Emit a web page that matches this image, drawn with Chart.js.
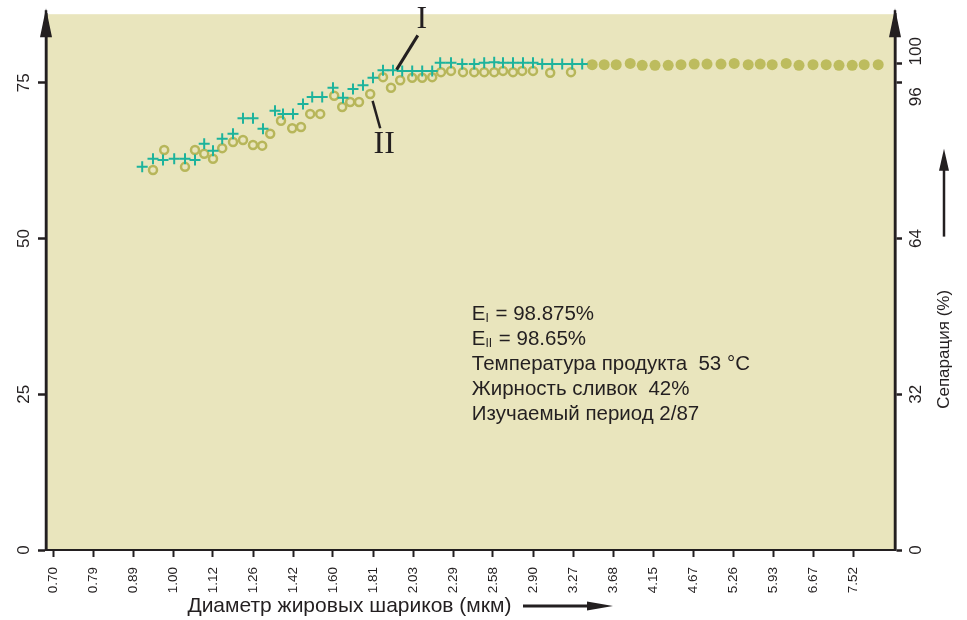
<!DOCTYPE html>
<html><head><meta charset="utf-8">
<script src="https://cdn.jsdelivr.net/npm/chart.js@4.4.1/dist/chart.umd.min.js"></script>
<style>html,body{margin:0;padding:0;background:#fff}#wrap{width:967px;height:620px;position:relative}</style>
</head><body><div id="wrap"><canvas id="c"></canvas></div>
<script>
// ---- data (x = position on the size-class axis, tick i = xTickLabels[i]) ----
const xTickLabels = ['0.70','0.79','0.89','1.00','1.12','1.26','1.42','1.60','1.81','2.03','2.29','2.58','2.90','3.27','3.68','4.15','4.67','5.26','5.93','6.67','7.52'];
const leftTicks = [0, 25, 50, 75];
const rightTicks = [0, 32, 64, 96, 100];

const seriesI_x = [2.23,2.50,2.75,3.03,3.30,3.55,3.78,4.00,4.23,4.50,4.75,5.00,5.25,5.55,5.75,6.00,6.25,6.48,6.73,7.00,7.25,7.50,7.75,8.00,8.25,8.50,8.73,8.98,9.23,9.48,9.68,9.95,10.23,10.53,10.78,11.03,11.25,11.50,11.75,12.00,12.23,12.48,12.73,12.98,13.23];
const seriesI_y = [61.5,62.8,62.6,62.8,62.8,62.6,65.2,64.1,66.0,66.8,69.3,69.3,67.6,70.5,70.0,70.0,71.6,72.7,72.7,74.2,72.6,74.0,74.6,75.8,77.0,77.0,76.9,76.9,76.9,76.9,78.2,78.2,78.0,78.0,78.2,78.3,78.2,78.2,78.2,78.2,78.0,78.0,78.0,78.0,78.0];

const seriesII_x = [2.50,2.78,3.30,3.55,3.78,4.00,4.23,4.50,4.75,5.00,5.23,5.43,5.70,5.98,6.20,6.43,6.68,7.03,7.23,7.43,7.65,7.93,8.25,8.45,8.68,8.98,9.23,9.48,9.70,9.95,10.25,10.53,10.78,11.03,11.25,11.50,11.73,12.00,12.43,12.95];
const seriesII_y = [61.0,64.2,61.5,64.2,63.6,62.8,64.5,65.5,65.8,65.0,64.9,66.8,68.9,67.7,67.9,70.0,70.0,72.9,71.1,71.9,71.9,73.2,75.9,74.2,75.4,75.8,75.8,75.9,76.7,76.9,76.7,76.7,76.7,76.7,76.9,76.7,76.9,76.9,76.6,76.7];

const common_x = [13.48,13.78,14.08,14.43,14.73,15.05,15.38,15.70,16.03,16.35,16.70,17.03,17.38,17.68,17.98,18.33,18.65,19.00,19.33,19.65,19.98,20.28,20.63];
const common_y = [77.9,77.9,77.9,78.1,77.8,77.8,77.8,77.9,78.0,78.0,78.0,78.1,77.9,78.0,77.9,78.1,77.8,77.9,77.9,77.8,77.8,77.9,77.9];

const noteLines = [['E','I',' = 98.875%'],['E','II',' = 98.65%'],['Температура продукта  53 °C'],['Жирность сливок  42%'],['Изучаемый период 2/87']];
const xTitle = 'Диаметр жировых шариков (мкм)';
const yRightTitle = 'Сепарация (%)';
const curveLabels = ['I','II'];

// ---- styling ----
const INK = '#231f20';
const SANS = '"Liberation Sans", Arial, Helvetica, sans-serif';
const SERIF = '"Liberation Serif", "Times New Roman", serif';
const BEIGE = '#e9e5bd';
const TEAL = '#1db39c';
const OLIVE = '#b7b65a';
const OLIVE_FILL = '#bdbc5e';

const pts = (xs, ys) => xs.map((x, i) => ({x, y: ys[i]}));

function triUp(ctx, x, yTip, len, hw){ctx.beginPath();ctx.moveTo(x,yTip);ctx.lineTo(x-hw,yTip+len);ctx.lineTo(x+hw,yTip+len);ctx.closePath();ctx.fill();}
function triRight(ctx, xTip, y, len, hw){ctx.beginPath();ctx.moveTo(xTip,y);ctx.lineTo(xTip-len,y-hw);ctx.lineTo(xTip-len,y+hw);ctx.closePath();ctx.fill();}

const decor = {
  id: 'decor',
  beforeDraw(chart){
    const {ctx, chartArea: a} = chart;
    ctx.save();
    ctx.fillStyle = '#fff'; ctx.fillRect(0,0,chart.width,chart.height);
    ctx.fillStyle = BEIGE; ctx.fillRect(a.left, a.top, a.right-a.left, a.bottom-a.top);
    ctx.restore();
  },
  afterDraw(chart){
    const {ctx, chartArea: a} = chart;
    const xs = chart.scales.x, ys = chart.scales.y, y2 = chart.scales.y2;
    ctx.save();
    ctx.fillStyle = INK; ctx.strokeStyle = INK;
    // axis arrows
    [a.left, a.right].forEach(x => {
      ctx.lineWidth = 2.5; ctx.beginPath(); ctx.moveTo(x, a.bottom); ctx.lineTo(x, a.top-4); ctx.stroke();
      triUp(ctx, x, a.top-6, 29, 6);
    });
    // right-axis labels
    ctx.font = '17px ' + SANS; ctx.textAlign = 'center'; ctx.textBaseline = 'middle';
    const nudge = {100: -12, 96: 14};
    rightTicks.forEach(v => {
      const y = y2.getPixelForValue(v) + (nudge[v] || 0);
      ctx.save(); ctx.translate(a.right + 21, y); ctx.rotate(-Math.PI/2); ctx.fillText(String(v), 0, 0); ctx.restore();
    });
    // right title + arrow
    const tx = a.right + 49;
    ctx.save(); ctx.translate(tx, ys.getPixelForValue(32.2)); ctx.rotate(-Math.PI/2);
    ctx.font = '17px ' + SANS; ctx.fillText(yRightTitle, 0, 0); ctx.restore();
    ctx.lineWidth = 2.5; ctx.beginPath(); ctx.moveTo(tx, ys.getPixelForValue(50.3)); ctx.lineTo(tx, ys.getPixelForValue(62)); ctx.stroke();
    triUp(ctx, tx, ys.getPixelForValue(64.4), 22, 5);
    // x title + arrow
    ctx.font = '21px ' + SANS; ctx.textAlign = 'center'; ctx.textBaseline = 'middle';
    const ty = chart.height - 14;
    ctx.fillText(xTitle, xs.getPixelForValue(7.41), ty);
    ctx.lineWidth = 3; ctx.beginPath(); ctx.moveTo(xs.getPixelForValue(11.75), ty); ctx.lineTo(xs.getPixelForValue(13.6), ty); ctx.stroke();
    triRight(ctx, xs.getPixelForValue(14.0), ty, 26, 4.5);
    // curve labels
    ctx.font = '32px ' + SERIF; ctx.textAlign = 'center'; ctx.textBaseline = 'middle';
    ctx.fillText(curveLabels[0], xs.getPixelForValue(9.22), ys.getPixelForValue(85.1));
    ctx.fillText(curveLabels[1], xs.getPixelForValue(8.28), ys.getPixelForValue(65.0));
    ctx.lineWidth = 3; ctx.beginPath();
    ctx.moveTo(xs.getPixelForValue(9.12), ys.getPixelForValue(82.6)); ctx.lineTo(xs.getPixelForValue(8.59), ys.getPixelForValue(77.1)); ctx.stroke();
    ctx.lineWidth = 2.5; ctx.beginPath();
    ctx.moveTo(xs.getPixelForValue(7.99), ys.getPixelForValue(72.1)); ctx.lineTo(xs.getPixelForValue(8.18), ys.getPixelForValue(67.7)); ctx.stroke();
    // notes
    const nx = xs.getPixelForValue(10.47);
    let ny = ys.getPixelForValue(37.9);
    ctx.textAlign = 'left'; ctx.textBaseline = 'middle';
    noteLines.forEach(parts => {
      let x = nx;
      parts.forEach((p, k) => {
        const sub = parts.length === 3 && k === 1;
        ctx.font = (sub ? '12px ' : '20.5px ') + SANS;
        ctx.fillText(p, x, sub ? ny + 5 : ny);
        x += ctx.measureText(p).width + (sub ? 1 : 0);
      });
      ny += 25.2;
    });
    ctx.restore();
  }
};

new Chart(document.getElementById('c'), {
  type: 'scatter',
  data: { datasets: [
    { label: 'I', data: pts(seriesI_x, seriesI_y), pointStyle: 'cross', pointRadius: 5.5, pointBorderWidth: 2, borderColor: TEAL, backgroundColor: TEAL },
    { label: 'II', data: pts(seriesII_x, seriesII_y), pointStyle: 'circle', pointRadius: 4, pointBorderWidth: 2.5, borderColor: OLIVE, backgroundColor: 'rgba(0,0,0,0)' },
    { label: 'I = II', data: pts(common_x, common_y), pointStyle: 'circle', pointRadius: 5.5, pointBorderWidth: 0, borderColor: OLIVE_FILL, backgroundColor: OLIVE_FILL }
  ]},
  options: {
    responsive: true, maintainAspectRatio: false, animation: false, devicePixelRatio: 1,
    layout: { padding: { top: 13, left: 0, right: 0, bottom: 0 } },
    plugins: { legend: { display: false }, tooltip: { enabled: false } },
    scales: {
      x: {
        type: 'linear', position: 'bottom', min: -0.175, max: 21.05,
        afterBuildTicks: s => { s.ticks = xTickLabels.map((_, i) => ({ value: i })); },
        afterFit: s => { s.height = 70; },
        grid: { display: true, drawOnChartArea: false, drawTicks: true, tickLength: 7, tickWidth: 2, tickColor: INK },
        border: { display: true, color: INK, width: 2 },
        ticks: { autoSkip: false, minRotation: 90, maxRotation: 90, padding: 10, color: INK, font: { family: SANS, size: 13.5 }, callback: v => xTickLabels[v] }
      },
      y: {
        type: 'linear', position: 'left', min: 0, max: 86,
        afterBuildTicks: s => { s.ticks = leftTicks.map(v => ({ value: v })); },
        afterFit: s => { s.width = 46; },
        grid: { display: true, drawOnChartArea: false, drawTicks: true, tickLength: 8, tickWidth: 2.5, tickColor: INK },
        border: { display: true, color: INK, width: 2.5 },
        ticks: { autoSkip: false, minRotation: 90, maxRotation: 90, crossAlign: 'center', padding: 4, color: INK, font: { family: SANS, size: 17 } }
      },
      y2: {
        type: 'linear', position: 'right', min: 0, max: 86 * 1.28,
        afterBuildTicks: s => { s.ticks = rightTicks.map(v => ({ value: v })); },
        afterFit: s => { s.width = 72; },
        grid: { display: true, drawOnChartArea: false, drawTicks: true, tickLength: 7, tickWidth: 2.5, tickColor: INK },
        border: { display: true, color: INK, width: 2.5 },
        ticks: { display: false }
      }
    }
  },
  plugins: [decor]
});
</script>
</body></html>
